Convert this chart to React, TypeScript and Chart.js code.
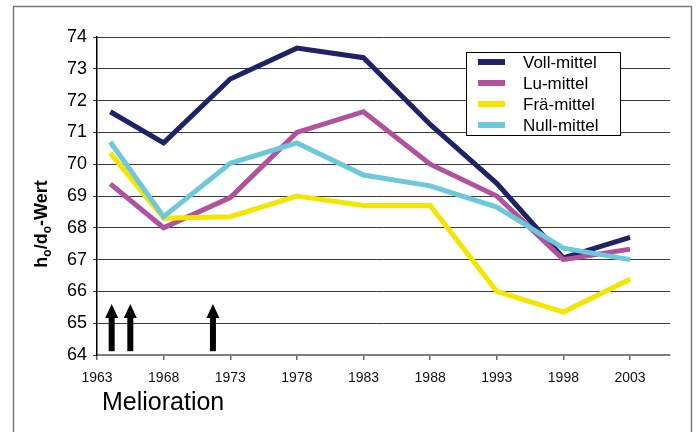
import React, { useEffect, useRef } from "react";
import { Chart, registerables } from "chart.js";

Chart.register(...registerables);

const years = [1964, 1968, 1973, 1978, 1983, 1988, 1993, 1998, 2003];
const vollMittel = [71.65, 70.67, 72.68, 73.65, 73.35, 71.25, 69.4, 67.05, 67.7];
const luMittel = [69.38, 68.0, 68.95, 71.0, 71.65, 70.0, 69.0, 67.0, 67.33];
const fraMittel = [70.35, 68.3, 68.35, 69.0, 68.7, 68.7, 66.0, 65.35, 66.38];
const nullMittel = [70.7, 68.35, 70.03, 70.67, 69.66, 69.32, 68.65, 67.36, 67.0];

const seriesLabels = ["Voll-mittel", "Lu-mittel", "Frä-mittel", "Null-mittel"];
const seriesColors = ["#1f2266", "#b0529c", "#f5e600", "#6cc8da"];
const xTickValues = [1963, 1968, 1973, 1978, 1983, 1988, 1993, 1998, 2003];
const xMin = 1963;
const xMax = 2006;
const yMin = 64;
const yMax = 74;
const arrowYears = [1964.1, 1965.5, 1971.7];
const arrowBase = 64.12;
const arrowTip = 65.6;
const xAxisTitle = "Melioration";

const FONT = '"Liberation Sans", Arial, sans-serif';

const toPoints = (vals: number[]) => vals.map((v, i) => ({ x: years[i], y: v }));

const decorPlugin = {
  id: "decor",
  afterDatasetsDraw(chart: any) {
    const ctx = chart.ctx;
    const xs = chart.scales.x;
    const ys = chart.scales.y;
    ctx.save();
    ctx.fillStyle = "#000";
    arrowYears.forEach((yr) => {
      const x = xs.getPixelForValue(yr);
      const yb = ys.getPixelForValue(arrowBase);
      const yt = ys.getPixelForValue(arrowTip);
      const shaftW = 6;
      const headW = 13;
      const headH = 14;
      ctx.fillRect(x - shaftW / 2, yt + headH - 1, shaftW, yb - (yt + headH - 1));
      ctx.beginPath();
      ctx.moveTo(x, yt);
      ctx.lineTo(x + headW / 2, yt + headH);
      ctx.lineTo(x - headW / 2, yt + headH);
      ctx.closePath();
      ctx.fill();
    });
    ctx.restore();
  },
  afterDraw(chart: any) {
    const ctx = chart.ctx;
    ctx.save();
    ctx.strokeStyle = "#7a7a7a";
    ctx.lineWidth = 1.5;
    ctx.strokeRect(13.5, 6.5, 678, 440);

    const lx = 466, ly = 52, lw = 154, lh = 83;
    ctx.fillStyle = "#fff";
    ctx.fillRect(lx, ly, lw, lh);
    ctx.strokeStyle = "#000";
    ctx.lineWidth = 1;
    ctx.strokeRect(lx + 0.5, ly + 0.5, lw, lh);
    ctx.font = `17px ${FONT}`;
    ctx.textBaseline = "middle";
    ctx.textAlign = "left";
    chart.data.datasets.forEach((ds: any, i: number) => {
      const ry = 62 + i * 21;
      ctx.strokeStyle = ds.borderColor;
      ctx.lineWidth = 6;
      ctx.beginPath();
      ctx.moveTo(478, ry);
      ctx.lineTo(505, ry);
      ctx.stroke();
      ctx.fillStyle = "#000";
      ctx.fillText(ds.label, 523, ry + 1);
    });

    ctx.translate(47, 224);
    ctx.rotate(-Math.PI / 2);
    const parts: [string, boolean][] = [
      ["h", false], ["o", true], ["/d", false], ["o", true], ["-Wert", false],
    ];
    const big = `bold 18px ${FONT}`;
    const small = `bold 12px ${FONT}`;
    let total = 0;
    parts.forEach(([t, sub]) => {
      ctx.font = sub ? small : big;
      total += ctx.measureText(t).width;
    });
    let px = -total / 2;
    ctx.textBaseline = "alphabetic";
    ctx.fillStyle = "#000";
    parts.forEach(([t, sub]) => {
      ctx.font = sub ? small : big;
      ctx.fillText(t, px, sub ? 4 : 0);
      px += ctx.measureText(t).width;
    });
    ctx.setTransform(1, 0, 0, 1, 0, 0);

    ctx.font = `25px ${FONT}`;
    ctx.fillStyle = "#000";
    ctx.textBaseline = "alphabetic";
    ctx.fillText(xAxisTitle, 102, 410);
    ctx.restore();
  },
};

export default function App() {
  const ref = useRef<HTMLCanvasElement | null>(null);
  useEffect(() => {
    if (!ref.current) return;
    const seriesValues = [vollMittel, luMittel, fraMittel, nullMittel];
    const chart = new Chart(ref.current, {
      type: "line",
      data: {
        datasets: seriesValues.map((vals, i) => ({
          label: seriesLabels[i],
          data: toPoints(vals),
          borderColor: seriesColors[i],
          backgroundColor: seriesColors[i],
          borderWidth: 5,
          pointRadius: 0,
          tension: 0,
          borderJoinStyle: "miter",
          borderCapStyle: "butt",
          order: 3 - i,
        })),
      },
      options: {
        responsive: false,
        animation: false,
        devicePixelRatio: 1,
        layout: { padding: { left: 0, top: 37, right: 26, bottom: 0 } },
        plugins: {
          legend: { display: false },
          tooltip: { enabled: false },
        },
        scales: {
          x: {
            type: "linear",
            min: xMin,
            max: xMax,
            afterBuildTicks: (scale: any) => {
              scale.ticks = xTickValues.map((v) => ({ value: v }));
            },
            afterFit: (scale: any) => {
              scale.height = 77;
            },
            ticks: {
              autoSkip: false,
              maxRotation: 0,
              padding: 10,
              color: "#111",
              font: { family: FONT, size: 14 },
              callback: (v: any) => String(v),
            },
            grid: {
              drawOnChartArea: false,
              drawTicks: true,
              tickLength: 5,
              color: "#666",
              lineWidth: 1.5,
            },
            border: { display: true, color: "#808080", width: 2 },
          },
          y: {
            min: yMin,
            max: yMax,
            afterFit: (scale: any) => {
              scale.width = 97;
            },
            ticks: {
              stepSize: 1,
              padding: 6,
              color: "#000",
              font: { family: FONT, size: 18 },
            },
            grid: {
              color: "#3a3a3a",
              lineWidth: 1,
              tickLength: 4,
              drawTicks: true,
            },
            border: { display: true, color: "#000", width: 1.5 },
          },
        },
      },
      plugins: [decorPlugin],
    } as any);
    return () => chart.destroy();
  }, []);
  return (
    <div style={{ position: "absolute", left: 0, top: 0, width: 696, height: 432, background: "#fff" }}>
      <canvas ref={ref} width={696} height={432} />
    </div>
  );
}
